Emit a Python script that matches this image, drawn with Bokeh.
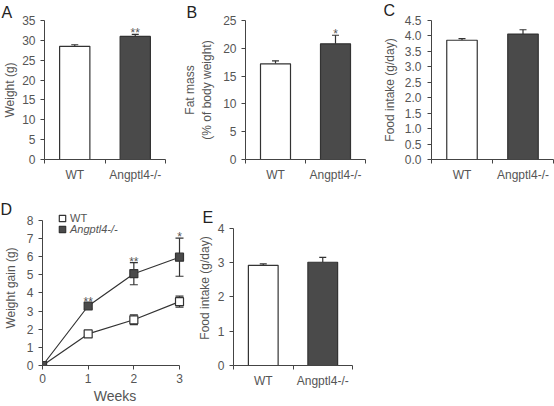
from bokeh.plotting import figure
from bokeh.models import (Range1d, FixedTicker, Legend, LegendItem, Title,
                          ColumnDataSource, Whisker, TeeHead, PrintfTickFormatter)
from bokeh.layouts import row, column
from bokeh.embed import file_html
from bokeh.resources import INLINE
from bokeh.core.properties import value

# ---------------- data ----------------
groups = ["WT", "Angptl4-/-"]
weight_mean = [28.5, 31.0]
weight_sem = [0.4, 0.5]
weight_sig = ["", "**"]
fat_mean = [17.2, 20.8]
fat_sem = [0.55, 1.55]
fat_sig = ["", "*"]
food_mean = [3.86, 4.06]
food_sem = [0.05, 0.14]
food_sig = ["", ""]
food2_mean = [2.92, 3.01]
food2_sem = [0.04, 0.14]
food2_sig = ["", ""]

weeks = [0, 1, 2, 3]
gain_wt = [0.0, 1.74, 2.52, 3.52]
gain_wt_sem = [0.0, 0.12, 0.27, 0.30]
gain_ko = [0.0, 3.28, 5.06, 5.97]
gain_ko_sem = [0.0, 0.15, 0.61, 1.05]
gain_sig = ["", "**", "**", "*"]

# ---------------- style ----------------
FONT = "Liberation Sans"
TXT = "#555555"
AX = "#444444"
DARK = "#4a4a4a"
EDGE = "#333333"
TICK_FS = "12px"
LAB_FS = "12px"


def base_fig(W, H, bl, br, bt, bb, xr, yr, tick_so, lab_so):
    p = figure(width=W, height=H, x_range=xr, y_range=yr,
               output_backend="svg", toolbar_location=None,
               min_border_left=bl, min_border_right=br,
               min_border_top=bt, min_border_bottom=bb)
    p.outline_line_color = None
    p.xgrid.grid_line_color = None
    p.ygrid.grid_line_color = None
    p.background_fill_color = "white"
    p.border_fill_color = "white"
    for ax in (p.xaxis[0], p.yaxis[0]):
        ax.axis_line_color = AX
        ax.axis_line_width = 1
        ax.major_tick_line_color = AX
        ax.major_tick_in = 0
        ax.major_tick_out = 4
        ax.minor_tick_line_color = None
        ax.major_label_text_font = FONT
        ax.major_label_text_font_size = TICK_FS
        ax.major_label_text_color = TXT
        ax.axis_label_text_font = FONT
        ax.axis_label_text_font_size = LAB_FS
        ax.axis_label_text_font_style = "normal"
        ax.axis_label_text_color = TXT
    p.yaxis.major_label_standoff = tick_so
    p.yaxis.axis_label_standoff = lab_so
    p.xaxis.major_label_standoff = 4
    return p


def add_letter(p, letter, off, standoff, valign="bottom"):
    t = Title(text=letter, align="left", offset=off, standoff=standoff,
              text_font=FONT, text_font_size="16px", text_font_style="normal",
              text_color="#222222", vertical_align=valign)
    p.add_layout(t, "above")


def bar_panel(letter, means, sems, sigs, ymax, yend, yticks, ylabel,
              W, H, bl, br, bt, bb, tick_so, lab_so, loff, lso, valign="bottom", fmt=None):
    p = base_fig(W, H, bl, br, bt, bb, Range1d(0, 2), Range1d(0, yend), tick_so, lab_so)
    xs = [0.5, 1.5]
    tops = [m + s for m, s in zip(means, sems)]
    p.vbar(x=xs, top=means, bottom=0, width=0.5,
           fill_color=["white", DARK], line_color=EDGE, line_width=1.2)
    src = ColumnDataSource(dict(base=xs, lower=means, upper=tops))
    w = Whisker(source=src, base="base", lower="lower", upper="upper",
                line_color=EDGE, line_width=1.2,
                upper_head=TeeHead(size=7, line_color=EDGE, line_width=1.2),
                lower_head=None)
    p.add_layout(w)
    p.text(x=xs, y=tops, text=sigs, text_align="center", text_baseline="alphabetic",
           y_offset=-1, text_font=value(FONT), text_font_size="12px", text_color=TXT)
    p.xaxis.ticker = FixedTicker(ticks=xs, minor_ticks=[0, 1, 2])
    p.xaxis.major_label_overrides = {0.5: groups[0], 1.5: groups[1]}
    p.xaxis.major_tick_line_color = None
    p.xaxis.minor_tick_line_color = AX
    p.xaxis.minor_tick_in = 0
    p.xaxis.minor_tick_out = 4
    p.yaxis.ticker = FixedTicker(ticks=yticks)
    p.yaxis.bounds = (0, ymax)
    if fmt:
        p.yaxis.formatter = PrintfTickFormatter(format=fmt)
    p.yaxis.axis_label = ylabel
    add_letter(p, letter, loff, lso, valign)
    return p


TOP_H, BOT_H = 186, 220

pA = bar_panel("A", weight_mean, weight_sem, weight_sig, 35, 35,
               [0, 5, 10, 15, 20, 25, 30, 35], "Weight (g)",
               180, TOP_H, 43, 15, 20, 27, 5, 2, -43, -1)
pB = bar_panel("B", fat_mean, fat_sem, fat_sig, 25, 25,
               [0, 5, 10, 15, 20, 25], "Fat mass\n(% of body weight)",
               195, TOP_H, 62, 10, 20, 27, 5, 6, -59, 0)
pC = bar_panel("C", food_mean, food_sem, food_sig, 4.5, 4.5,
               [0, 0.5, 1, 1.5, 2, 2.5, 3, 3.5, 4, 4.5], "Food intake (g/day)",
               179, TOP_H, 56, 1, 20, 27, 6, 5, -48, 0, valign="top", fmt="%.1f")
pE = bar_panel("E", food2_mean, food2_sem, food2_sig, 4, 4.518,
               [0, 1, 2, 3, 4], "Food intake (g/day)",
               180, BOT_H, 43, 18, 24, 39, 5, 3, -31, -30.8)

# ---------------- panel D ----------------
DW, dbl, dbr, dbt, dbb = 190, 42, 3, 24, 39
pD = base_fig(DW, BOT_H, dbl, dbr, dbt, dbb, Range1d(0, 3.175), Range1d(0, 8.544), 5, 6)
srcD = ColumnDataSource(dict(
    w=weeks, wt=gain_wt, ko=gain_ko,
    wt_lo=[m - s for m, s in zip(gain_wt, gain_wt_sem)],
    wt_hi=[m + s for m, s in zip(gain_wt, gain_wt_sem)],
    ko_lo=[m - s for m, s in zip(gain_ko, gain_ko_sem)],
    ko_hi=[m + s for m, s in zip(gain_ko, gain_ko_sem)],
    sig=gain_sig))
for lo, hi in (("wt_lo", "wt_hi"), ("ko_lo", "ko_hi")):
    wk = Whisker(source=srcD, base="w", lower=lo, upper=hi, line_color=EDGE, line_width=1.2,
                 upper_head=TeeHead(size=8, line_color=EDGE, line_width=1.2),
                 lower_head=TeeHead(size=8, line_color=EDGE, line_width=1.2),
                 level="underlay")
    pD.add_layout(wk)
pD.line("w", "wt", source=srcD, line_color=EDGE, line_width=1.2)
pD.line("w", "ko", source=srcD, line_color=EDGE, line_width=1.2)
r_wt = pD.scatter("w", "wt", source=srcD, marker="square", size=8,
                  fill_color="white", line_color=EDGE, line_width=1.2)
r_ko = pD.scatter("w", "ko", source=srcD, marker="square", size=8,
                  fill_color=DARK, line_color=EDGE, line_width=1.2)
pD.text(x="w", y="ko_hi", text="sig", source=srcD, text_align="center",
        text_baseline="alphabetic", y_offset=-1, text_font=value(FONT),
        text_font_size="12px", text_color=TXT)
pD.xaxis.ticker = FixedTicker(ticks=weeks)
pD.xaxis.bounds = (0, 3)
pD.yaxis.ticker = FixedTicker(ticks=[0, 1, 2, 3, 4, 5, 6, 7, 8])
pD.yaxis.bounds = (0, 8)
pD.xaxis.axis_label = "Weeks"
pD.xaxis.axis_label_text_font_size = "14px"
pD.xaxis.axis_label_standoff = 2
pD.yaxis.axis_label = "Weight gain (g)"
for r, lab, style, yy in ((r_wt, "WT", "normal", 139), (r_ko, "Angptl4-/-", "italic", 128)):
    lg = Legend(items=[LegendItem(label=lab, renderers=[r])], location=(12, yy),
                glyph_width=16, glyph_height=16, label_height=16, label_standoff=-2,
                padding=0, margin=0, spacing=0, border_line_color=None,
                background_fill_alpha=0, label_text_font=FONT,
                label_text_font_size="11px", label_text_color=TXT,
                label_text_font_style=style)
    pD.add_layout(lg)
add_letter(pD, "D", -42, -14.8)

layout = column(row(pA, pB, pC), row(pD, pE))
open("out.html", "w").write(file_html(layout, INLINE))
